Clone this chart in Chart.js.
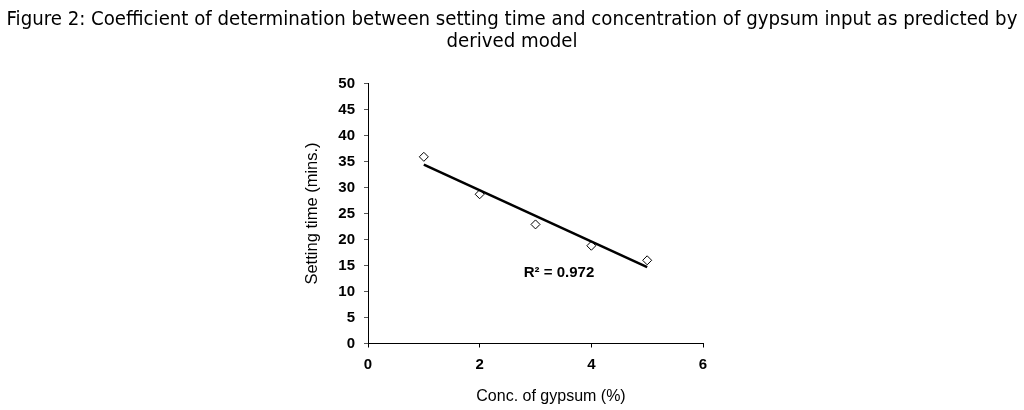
<!DOCTYPE html>
<html>
<head>
<meta charset="utf-8">
<script src="https://cdn.jsdelivr.net/npm/chart.js@4.4.1/dist/chart.umd.min.js"></script>
<style>
  html, body { margin: 0; padding: 0; background: #fff; }
  #wrap { width: 1024px; height: 410px; position: relative; }
</style>
</head>
<body>
<div id="wrap"><canvas id="chart"></canvas></div>
<script>
// values
const gypsumConc = [1, 2, 3, 4, 5];
const settingTime = [35.9, 28.7, 22.9, 18.8, 16.0];
const trendX = [1, 5];
const trendY = [34.4, 14.7];
const rSquared = 'R\u00B2 = 0.972';

const titleLines = [
  'Figure 2: Coefficient of determination between setting time and concentration of gypsum input as predicted by',
  'derived model',
];
const xTitle = 'Conc. of gypsum (%)';
const yTitle = 'Setting time (mins.)';

const TICK_FONT = { family: 'Liberation Sans, Arial, sans-serif', size: 15, weight: 'bold' };

// figure caption, x-axis title and R² note
const textPlugin = {
  id: 'figText',
  afterDraw(chart) {
    const { ctx, scales: { x, y } } = chart;
    ctx.save();
    ctx.fillStyle = '#000';
    ctx.textAlign = 'center';
    ctx.textBaseline = 'alphabetic';
    ctx.font = '20.2px "DejaVu Sans Condensed", "DejaVu Sans", sans-serif';
    ctx.fillText(titleLines[0], 512, 25);
    ctx.fillText(titleLines[1], 512, 47);

    ctx.textBaseline = 'middle';
    ctx.font = '16px "Liberation Sans", Arial, sans-serif';
    ctx.fillText(xTitle, 551, 397);

    ctx.textAlign = 'left';
    ctx.font = 'bold 15px "Liberation Sans", Arial, sans-serif';
    ctx.fillText(rSquared, x.getPixelForValue(2.79), y.getPixelForValue(13.6));
    ctx.restore();
  },
};

new Chart(document.getElementById('chart'), {
  type: 'scatter',
  data: {
    datasets: [
      {
        label: 'Trend',
        type: 'line',
        data: trendX.map((v, i) => ({ x: v, y: trendY[i] })),
        borderColor: '#000',
        borderWidth: 2.5,
        pointRadius: 0,
        fill: false,
      },
      {
        label: 'Setting time',
        data: gypsumConc.map((v, i) => ({ x: v, y: settingTime[i] })),
        pointStyle: 'rectRot',
        pointRadius: 4.5,
        pointBackgroundColor: '#fff',
        pointBorderColor: '#000',
        pointBorderWidth: 1,
      },
    ],
  },
  options: {
    responsive: true,
    maintainAspectRatio: false,
    animation: false,
    layout: { padding: { top: 83.5, right: 321, left: 290, bottom: 0 } },
    plugins: {
      legend: { display: false },
      tooltip: { enabled: false },
    },
    scales: {
      x: {
        type: 'linear',
        min: 0,
        max: 6,
        ticks: { stepSize: 2, color: '#000', font: TICK_FONT, padding: 8 },
        grid: { drawOnChartArea: false, drawTicks: true, tickLength: 4, color: '#000' },
        border: { color: '#000', width: 1 },
        afterFit(scale) { scale.height = 66.5; },
      },
      y: {
        min: 0,
        max: 50,
        ticks: { stepSize: 5, color: '#000', font: TICK_FONT, padding: 9 },
        grid: { drawOnChartArea: false, drawTicks: true, tickLength: 4, color: '#555' },
        border: { color: '#000', width: 1 },
        title: {
          display: true,
          text: yTitle,
          color: '#000',
          font: { family: 'Liberation Sans, Arial, sans-serif', size: 16.5 },
          padding: { top: 13, bottom: 0 },
        },
        afterFit(scale) { scale.width = 78; },
      },
    },
  },
  plugins: [textPlugin],
});
</script>
</body>
</html>
